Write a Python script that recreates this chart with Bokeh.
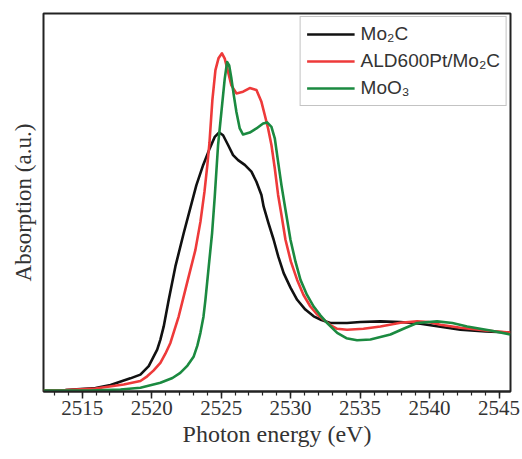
from bokeh.plotting import figure
from bokeh.models import Range1d, FixedTicker, Legend, LegendItem
from bokeh.embed import file_html
from bokeh.resources import INLINE

# ---- data ----
mo2c_e = [2512.22, 2513.80, 2515.96, 2517.04, 2518.47, 2519.19, 2519.79, 2520.40,
          2520.63, 2520.87, 2521.23, 2521.71, 2522.31, 2523.22, 2523.71, 2524.18,
          2524.54, 2524.86, 2525.14, 2525.50, 2525.86, 2526.22, 2526.70, 2527.18,
          2527.54, 2527.90, 2528.06, 2528.40, 2528.78, 2529.12, 2529.50, 2529.99,
          2530.47, 2531.06, 2531.66, 2532.22, 2532.86, 2534.06, 2535.02, 2536.46,
          2537.90, 2539.34, 2540.78, 2542.22, 2544.02, 2545.82]
mo2c_a = [0.000, 0.001, 0.007, 0.016, 0.036, 0.047, 0.072, 0.121,
          0.151, 0.190, 0.269, 0.368, 0.467, 0.609, 0.669, 0.718,
          0.752, 0.765, 0.757, 0.728, 0.698, 0.683, 0.669, 0.649,
          0.619, 0.580, 0.545, 0.497, 0.447, 0.396, 0.348, 0.305,
          0.269, 0.240, 0.220, 0.209, 0.200, 0.200, 0.203, 0.205,
          0.203, 0.198, 0.189, 0.180, 0.175, 0.172]

ald_e = [2512.22, 2513.80, 2515.96, 2517.99, 2519.19, 2519.68, 2520.13, 2520.63,
         2520.99, 2521.35, 2521.95, 2522.55, 2523.15, 2523.51, 2523.80, 2524.01,
         2524.16, 2524.37, 2524.59, 2524.81, 2525.06, 2525.26, 2525.50, 2525.74,
         2526.10, 2526.58, 2527.06, 2527.54, 2527.90, 2528.14, 2528.38, 2528.62,
         2528.86, 2529.10, 2529.34, 2529.63, 2530.02, 2530.47, 2530.92, 2531.42,
         2531.89, 2532.38, 2532.86, 2533.35, 2534.06, 2535.24, 2536.46, 2537.90,
         2539.10, 2539.91, 2540.78, 2542.22, 2544.02, 2545.82]
ald_a = [0.000, 0.001, 0.006, 0.018, 0.028, 0.042, 0.059, 0.082,
         0.109, 0.141, 0.220, 0.319, 0.417, 0.500, 0.589, 0.669,
         0.734, 0.861, 0.950, 0.985, 1.000, 0.984, 0.945, 0.905,
         0.881, 0.886, 0.897, 0.891, 0.856, 0.817, 0.777, 0.728,
         0.659, 0.580, 0.521, 0.447, 0.382, 0.328, 0.284, 0.249,
         0.226, 0.210, 0.194, 0.183, 0.180, 0.183, 0.190, 0.201,
         0.205, 0.203, 0.195, 0.186, 0.178, 0.172]

moo3_e = [2512.22, 2515.60, 2517.76, 2519.19, 2520.63, 2521.50, 2522.06, 2522.58,
          2523.03, 2523.29, 2523.51, 2523.73, 2523.87, 2524.11, 2524.35, 2524.54,
          2524.78, 2525.02, 2525.26, 2525.43, 2525.58, 2525.74, 2525.91, 2526.10,
          2526.34, 2526.58, 2527.06, 2527.54, 2528.02, 2528.31, 2528.62, 2528.86,
          2529.10, 2529.34, 2529.63, 2529.99, 2530.35, 2530.71, 2531.17, 2531.66,
          2532.14, 2532.63, 2533.35, 2534.01, 2534.78, 2535.74, 2537.18, 2538.12,
          2539.10, 2540.54, 2541.64, 2542.70, 2544.37, 2545.82]
moo3_a = [0.000, 0.000, 0.003, 0.008, 0.023, 0.037, 0.052, 0.074,
          0.101, 0.133, 0.171, 0.219, 0.269, 0.368, 0.467, 0.574,
          0.728, 0.826, 0.925, 0.974, 0.964, 0.925, 0.876, 0.826,
          0.777, 0.759, 0.765, 0.777, 0.792, 0.795, 0.782, 0.748,
          0.678, 0.609, 0.536, 0.447, 0.382, 0.328, 0.284, 0.249,
          0.223, 0.200, 0.171, 0.155, 0.149, 0.151, 0.166, 0.183,
          0.200, 0.205, 0.200, 0.190, 0.178, 0.166]

series_names = ["Mo\u2082C", "ALD600Pt/Mo\u2082C", "MoO\u2083"]
series_colors = ["#111111", "#ee3a3a", "#1b8a40"]

x_ticks = [2515, 2520, 2525, 2530, 2535, 2540, 2545]
x_minor = [v for v in range(2513, 2546)]

SERIF = "Liberation Serif"

p = figure(width=522, height=459, output_backend="svg", toolbar_location=None,
           x_range=Range1d(2512.22, 2545.82), y_range=Range1d(-0.003, 1.118),
           min_border_left=43, min_border_right=12, min_border_top=13,
           min_border_bottom=68)
p.background_fill_color = "white"
p.border_fill_color = "white"
p.outline_line_color = "#222222"
p.outline_line_width = 2
p.grid.visible = False

renderers = []
for e, a, c in zip([mo2c_e, ald_e, moo3_e], [mo2c_a, ald_a, moo3_a], series_colors):
    r = p.line(e, a, line_color=c, line_width=2.6, line_join="round")
    renderers.append(r)

# x axis
xa = p.xaxis[0]
xa.ticker = FixedTicker(ticks=x_ticks, minor_ticks=x_minor)
xa.axis_label = "Photon energy (eV)"
xa.axis_label_text_font = SERIF
xa.axis_label_text_font_size = "24px"
xa.axis_label_text_font_style = "normal"
xa.axis_label_text_color = "#333333"
xa.axis_label_standoff = 3
xa.major_label_text_font = SERIF
xa.major_label_text_font_size = "21px"
xa.major_label_text_color = "#333333"
xa.major_label_standoff = 2
xa.major_tick_in = 0
xa.major_tick_out = 7
xa.minor_tick_in = 0
xa.minor_tick_out = 4
xa.major_tick_line_color = "#222222"
xa.minor_tick_line_color = "#222222"
xa.major_tick_line_width = 1.5
xa.minor_tick_line_width = 1.2
xa.axis_line_color = "#222222"
xa.axis_line_width = 2

# y axis: label only
ya = p.yaxis[0]
ya.ticker = FixedTicker(ticks=[])
ya.axis_label = "Absorption (a.u.)"
ya.axis_label_text_font = SERIF
ya.axis_label_text_font_size = "23px"
ya.axis_label_text_font_style = "normal"
ya.axis_label_text_color = "#333333"
ya.axis_label_standoff = 8
ya.axis_line_color = None
ya.major_tick_line_color = None
ya.minor_tick_line_color = None

legend = Legend(items=[LegendItem(label=n, renderers=[r]) for n, r in zip(series_names, renderers)],
                location="top_right")
legend.margin = 3
legend.padding = 6
legend.spacing = 5
legend.glyph_width = 48
legend.glyph_height = 22
legend.label_height = 22
legend.label_standoff = 6
legend.label_text_font = "Liberation Sans"
legend.label_text_font_size = "19px"
legend.label_text_color = "#333333"
legend.border_line_color = "#888888"
legend.border_line_width = 1
legend.background_fill_color = "white"
legend.background_fill_alpha = 1
p.add_layout(legend)

open("out.html", "w").write(file_html(p, INLINE))
